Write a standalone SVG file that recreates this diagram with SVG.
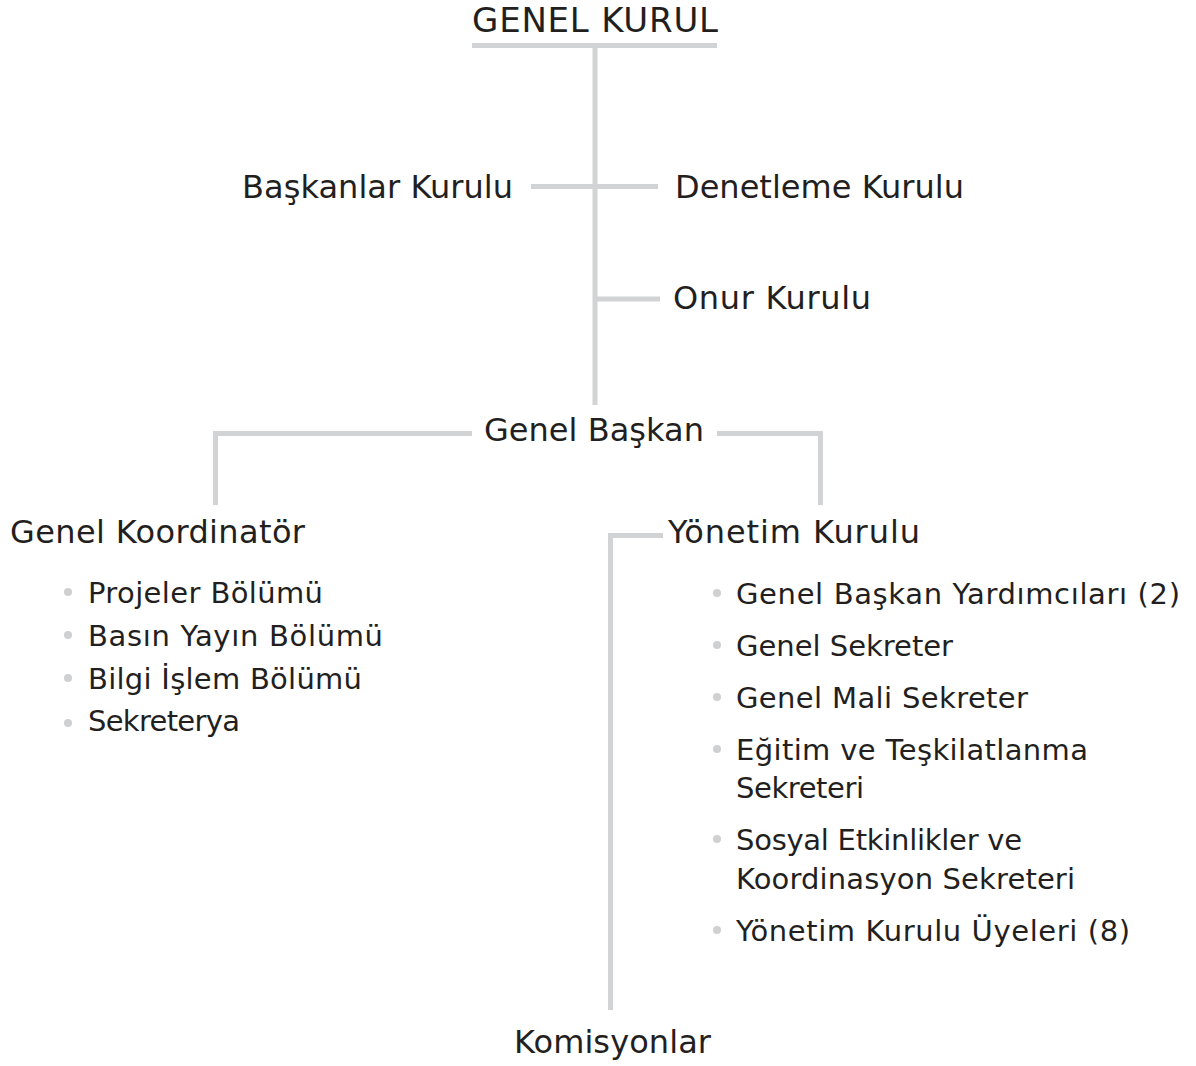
<svg xmlns="http://www.w3.org/2000/svg" width="1196" height="1066" viewBox="0 0 1196 1066">
<style>
.t{font-family:"DejaVu Sans","Liberation Sans",sans-serif;fill:#231f20;}
.h{font-size:32px;}
.b{font-size:29px;}
.ln{fill:none;stroke:#d1d3d4;stroke-width:5;stroke-linecap:butt;stroke-linejoin:miter;}
.dot{fill:#cfd0d2;}
</style>
<rect width="1196" height="1066" fill="#ffffff"/>
<g id="connectors">
<line class="ln" x1="472" y1="45.5" x2="717" y2="45.5"/>
<line class="ln" x1="595" y1="45" x2="595" y2="405"/>
<line class="ln" x1="531" y1="186.5" x2="658" y2="186.5"/>
<line class="ln" x1="595" y1="299" x2="660" y2="299"/>
<polyline class="ln" points="472,433.5 215.5,433.5 215.5,505"/>
<polyline class="ln" points="717,433.5 820.5,433.5 820.5,505"/>
<polyline class="ln" points="663,535.5 610.5,535.5 610.5,1010"/>
</g>
<g id="genel-kurul"><text class="t" x="472" y="32" font-size="34" textLength="246" lengthAdjust="spacing">GENEL KURUL</text></g>
<g id="baskanlar-kurulu"><text class="t h" x="242" y="198" textLength="271" lengthAdjust="spacing">Başkanlar Kurulu</text></g>
<g id="denetleme-kurulu"><text class="t h" x="675" y="198" textLength="289" lengthAdjust="spacing">Denetleme Kurulu</text></g>
<g id="onur-kurulu"><text class="t h" x="673" y="309" textLength="198" lengthAdjust="spacing">Onur Kurulu</text></g>
<g id="genel-baskan"><text class="t h" x="484" y="441" textLength="220" lengthAdjust="spacing">Genel Başkan</text></g>
<g id="genel-koordinator">
<text class="t h" x="10" y="543" textLength="295" lengthAdjust="spacing">Genel Koordinatör</text>
<circle class="dot" cx="68" cy="592" r="4"/>
<text class="t b" x="88" y="603" textLength="235" lengthAdjust="spacing">Projeler Bölümü</text>
<circle class="dot" cx="68" cy="635" r="4"/>
<text class="t b" x="88" y="646" textLength="295" lengthAdjust="spacing">Basın Yayın Bölümü</text>
<circle class="dot" cx="68" cy="678" r="4"/>
<text class="t b" x="88" y="689" textLength="274" lengthAdjust="spacing">Bilgi İşlem Bölümü</text>
<circle class="dot" cx="68" cy="723" r="4"/>
<text class="t b" x="88" y="731" textLength="152" lengthAdjust="spacing">Sekreterya</text>
</g>
<g id="yonetim-kurulu">
<text class="t h" x="668" y="543" textLength="252" lengthAdjust="spacing">Yönetim Kurulu</text>
<circle class="dot" cx="717" cy="593" r="4"/>
<text class="t b" x="736" y="604" textLength="444" lengthAdjust="spacing">Genel Başkan Yardımcıları (2)</text>
<circle class="dot" cx="717" cy="645" r="4"/>
<text class="t b" x="736" y="656" textLength="217" lengthAdjust="spacing">Genel Sekreter</text>
<circle class="dot" cx="717" cy="697" r="4"/>
<text class="t b" x="736" y="708" textLength="292" lengthAdjust="spacing">Genel Mali Sekreter</text>
<circle class="dot" cx="717" cy="749" r="4"/>
<text class="t b" x="736" y="760" textLength="352" lengthAdjust="spacing">Eğitim ve Teşkilatlanma</text>
<text class="t b" x="736" y="798" textLength="128" lengthAdjust="spacing">Sekreteri</text>
<circle class="dot" cx="717" cy="839" r="4"/>
<text class="t b" x="736" y="850" textLength="286" lengthAdjust="spacing">Sosyal Etkinlikler ve</text>
<text class="t b" x="736" y="889" textLength="339" lengthAdjust="spacing">Koordinasyon Sekreteri</text>
<circle class="dot" cx="717" cy="930" r="4"/>
<text class="t b" x="736" y="941" textLength="394" lengthAdjust="spacing">Yönetim Kurulu Üyeleri (8)</text>
</g>
<g id="komisyonlar"><text class="t h" x="514" y="1053" textLength="197" lengthAdjust="spacing">Komisyonlar</text></g>
</svg>
